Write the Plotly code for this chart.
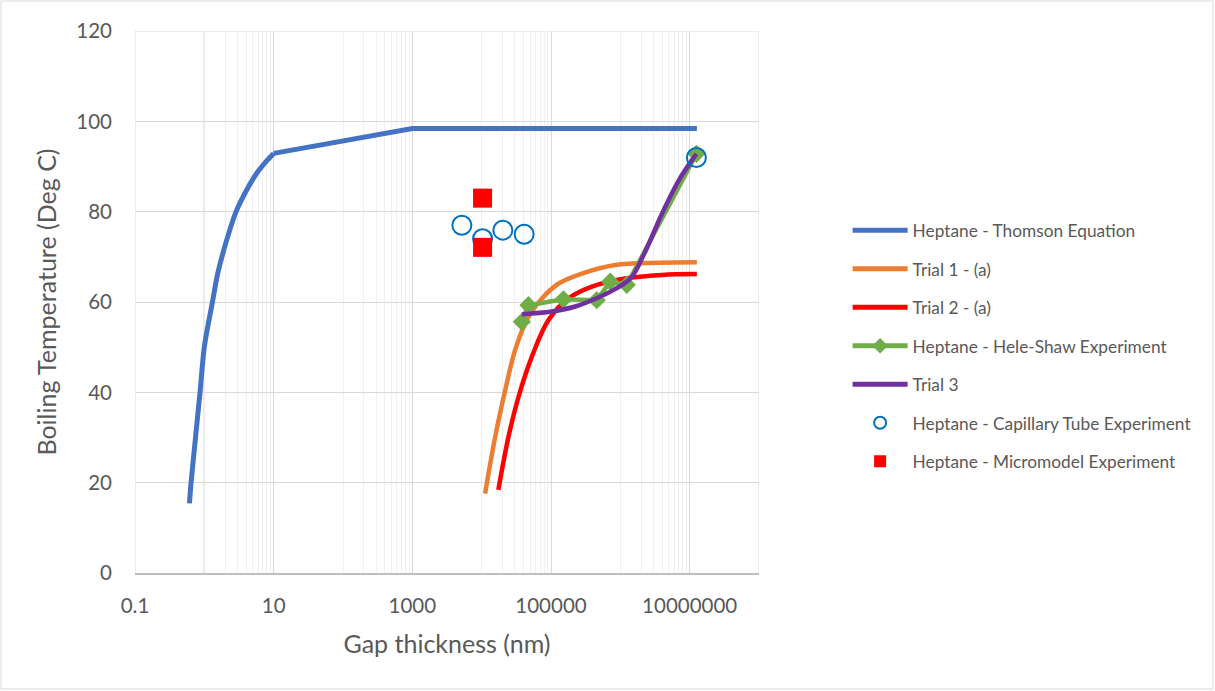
import plotly.graph_objects as go

# ---------------- data ----------------
# Thomson equation: curved part (smoothed) and straight part
thomson_curve_x = [0.61, 0.643, 0.867, 1.0, 1.31, 1.56, 2.1, 2.87, 4.08, 5.7, 8.1, 10]
thomson_curve_y = [15.4, 20.0, 40.0, 50.1, 60.0, 66.3, 73.7, 80.0, 84.8, 88.5, 91.4, 92.9]
thomson_flat_x = [10, 1000, 1.27e7]
thomson_flat_y = [92.9, 98.4, 98.4]

trial1_x = [11200, 15700, 21900, 30400, 47300, 74000, 129000, 279000, 844000, 3.55e6, 1.27e7]
trial1_y = [17.6, 30.2, 40.5, 49.4, 56.7, 60.8, 64.1, 66.3, 68.2, 68.7, 68.8]

trial2_x = [17400, 24400, 34000, 53000, 92000, 179000, 389000, 1.17e6, 3.97e6, 1.27e7]
trial2_y = [18.4, 30.2, 39.0, 47.9, 56.0, 60.8, 63.4, 65.2, 66.0, 66.2]

hele_x = [38000, 47300, 151000, 457000, 715000, 1.24e6, 1.25e7]
hele_y = [55.6, 59.3, 60.6, 60.4, 64.5, 63.8, 92.8]

trial3_x = [38000, 102000, 224000, 480000, 851000, 1.45e6, 2.2e6, 4.0e6, 7.0e6, 1.25e7]
trial3_y = [57.3, 57.9, 59.0, 61.0, 62.9, 65.5, 70.6, 79.6, 87.0, 92.8]

capillary_x = [5180, 10300, 20200, 41000, 1.25e7]
capillary_y = [77.0, 74.0, 75.9, 75.0, 92.0]

micro_x = [10300, 10300]
micro_y = [83.0, 72.1]

x_tick_vals = [0.1, 10, 1000, 100000, 10000000]
x_tick_text = ["0.1", "10", "1000", "100000", "10000000"]
x_minor_vals = ([k * 1 for k in range(1, 10)] + [k * 100 for k in range(1, 10)] +
                [k * 1e4 for k in range(1, 10)] + [k * 1e6 for k in range(1, 10)] + [1e8])

# ---------------- figure ----------------
FONT = "Lato, 'Open Sans', sans-serif"
TXT = "#595959"
GRID = "#D9D9D9"

fig = go.Figure()
fig.add_trace(go.Scatter(x=thomson_curve_x, y=thomson_curve_y, mode="lines", name="Heptane - Thomson Equation",
                         line=dict(color="#4472C4", width=5, shape="spline", smoothing=0.8), legendgroup="a"))
fig.add_trace(go.Scatter(x=thomson_flat_x, y=thomson_flat_y, mode="lines", name="Heptane - Thomson Equation",
                         line=dict(color="#4472C4", width=5), legendgroup="a", showlegend=False))
fig.add_trace(go.Scatter(x=trial1_x, y=trial1_y, mode="lines", name="Trial 1 - (a)",
                         line=dict(color="#ED7D31", width=4.5, shape="spline"), legendgroup="b"))
fig.add_trace(go.Scatter(x=trial2_x, y=trial2_y, mode="lines", name="Trial 2 - (a)",
                         line=dict(color="#FF0000", width=4.5, shape="spline"), legendgroup="c"))
fig.add_trace(go.Scatter(x=hele_x, y=hele_y, mode="lines+markers", name="Heptane - Hele-Shaw Experiment",
                         line=dict(color="#70AD47", width=4.5),
                         marker=dict(symbol="diamond", size=14, color="#70AD47"), legendgroup="d"))
fig.add_trace(go.Scatter(x=trial3_x, y=trial3_y, mode="lines", name="Trial 3",
                         line=dict(color="#7030A0", width=4.5, shape="spline"), legendgroup="e"))
fig.add_trace(go.Scatter(x=capillary_x, y=capillary_y, mode="markers", name="Heptane - Capillary Tube Experiment",
                         marker=dict(symbol="circle-open", size=19, color="#0070C0", line=dict(width=2)),
                         legendgroup="f"))
fig.add_trace(go.Scatter(x=micro_x, y=micro_y, mode="markers", name="Heptane - Micromodel Experiment",
                         marker=dict(symbol="square", size=19, color="#FF0000"), legendgroup="g"))

fig.update_layout(
    width=1215, height=691, autosize=False,
    margin=dict(l=135, r=456, t=31, b=118),
    paper_bgcolor="white", plot_bgcolor="white",
    font=dict(family=FONT, color=TXT),
    showlegend=True,
    legend=dict(x=1.142, y=0.665, xanchor="left", yanchor="top",
                font=dict(family=FONT, size=17.3, color=TXT), itemwidth=55,
                tracegroupgap=13.0, itemsizing="constant", bgcolor="rgba(0,0,0,0)"),
    xaxis=dict(type="log", range=[-1, 8], tickvals=x_tick_vals, ticktext=x_tick_text,
               showgrid=True, gridcolor=GRID, gridwidth=1,
               showline=True, linecolor="#BFBFBF", linewidth=1.5,
               zeroline=False, ticks="", ticklabelstandoff=14,
               tickfont=dict(family=FONT, size=20.5, color=TXT),
               minor=dict(tickvals=x_minor_vals, showgrid=True, gridcolor="#F0F0F0", gridwidth=1, ticks=""),
               title=dict(text="Gap thickness (nm)", font=dict(family=FONT, size=25, color=TXT), standoff=19)),
    yaxis=dict(range=[0, 120], dtick=20, showgrid=True, gridcolor=GRID, gridwidth=1,
               zeroline=False, showline=False, ticks="", ticklabelstandoff=22,
               tickfont=dict(family=FONT, size=20.5, color=TXT),
               title=dict(text="Boiling Temperature (Deg C)", font=dict(family=FONT, size=25, color=TXT), standoff=12)),
)

# plot-area edge lines (left 0.1, right 1e8, top 120) and vertical axis crossing at x = 1
for xv in (0.1, 1e8):
    fig.add_shape(type="line", xref="x", yref="paper", x0=xv, x1=xv, y0=0, y1=1,
                  line=dict(color=GRID, width=1), layer="below")
fig.add_shape(type="line", xref="paper", yref="y", x0=0, x1=1, y0=120, y1=120,
              line=dict(color=GRID, width=1), layer="below")
fig.add_shape(type="line", xref="x", yref="paper", x0=1, x1=1, y0=0, y1=1,
              line=dict(color="#C8C8C8", width=1.5), layer="below")
# chart outer border
fig.add_shape(type="rect", xref="paper", yref="paper",
              x0=(1 - 135) / 624, x1=(1213 - 135) / 624,
              y0=(573 - 689) / 542, y1=(573 - 1) / 542,
              line=dict(color=GRID, width=1), fillcolor="rgba(0,0,0,0)", layer="below")

fig.write_html("out.html", config={"displayModeBar": False},
               post_script="document.body.style.margin='0';")
